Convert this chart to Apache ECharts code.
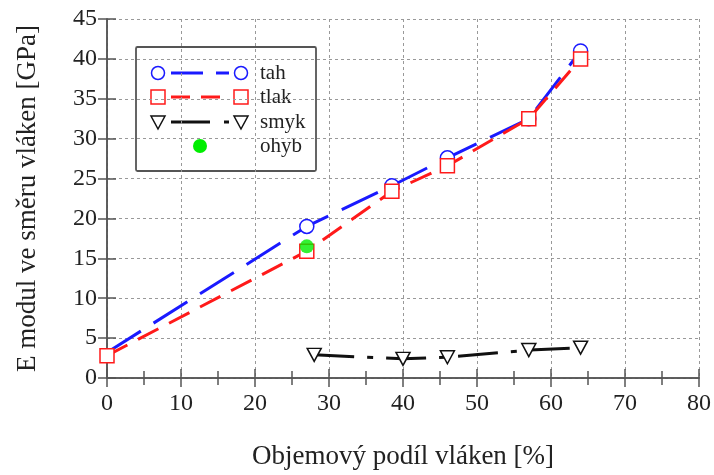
<!DOCTYPE html>
<html>
<head>
<meta charset="utf-8">
<script src="https://cdn.jsdelivr.net/npm/echarts@6/dist/echarts.min.js"></script>
<style>
html,body{margin:0;padding:0;background:#fff;}
#chart{width:714px;height:475px;}
</style>
</head>
<body>
<div id="chart"></div>
<script>
// ---- data ----
const tahX  = [0, 27, 38.5, 46, 57, 64];
const tahY  = [3.2, 19.0, 24.1, 27.6, 32.5, 41.0];
const tlakX = [0, 27, 38.5, 46, 57, 64];
const tlakY = [2.8, 15.9, 23.4, 26.6, 32.5, 40.0];
const smykX = [28, 40, 46, 57, 64];
const smykY = [2.9, 2.4, 2.6, 3.5, 3.8];
const ohybX = [27];
const ohybY = [16.5];
const seriesNames = ['tah', 'tlak', 'smyk', 'ohyb'];
const xTitle = 'Objemový podíl vláken [%]';
const yTitle = 'E modul ve směru vláken [GPa]';

const FONT = 'Liberation Serif';
const BLUE = '#1a1aff', RED = '#ff1a1a', BLACK = '#111111', GREEN = '#00ee00';

function pairs(xs, ys) { return xs.map((x, i) => [x, ys[i]]); }

const tahData = pairs(tahX, tahY).map((p, i) => i === 0 ? { value: p, symbol: 'none' } : p);

const chart = echarts.init(document.getElementById('chart'));

const frameAxisLine = { show: true, lineStyle: { color: '#555', width: 1.5 } };

// custom legend (marker - line - marker, like the reference)
const L = { x: 136, y: 47, w: 180, h: 124, rows: [73, 97, 122, 146], m1: 158, m2: 241, lx1: 171, lx2: 229, tx: 260 };
function legendRow(i) {
  const y = L.rows[i];
  const els = [];
  if (i === 0) {
    els.push({ type: 'line', shape: { x1: L.lx1, y1: y, x2: L.lx2, y2: y }, style: { stroke: BLUE, lineWidth: 3, lineDash: [32, 13] } });
    [L.m1, L.m2].forEach(cx => els.push({ type: 'circle', shape: { cx: cx, cy: y, r: 6.5 }, style: { fill: '#fff', stroke: BLUE, lineWidth: 1.5 } }));
  } else if (i === 1) {
    els.push({ type: 'line', shape: { x1: L.lx1, y1: y, x2: L.lx2, y2: y }, style: { stroke: RED, lineWidth: 3, lineDash: [19, 11] } });
    [L.m1, L.m2].forEach(cx => els.push({ type: 'rect', shape: { x: cx - 7, y: y - 7, width: 14, height: 14 }, style: { fill: '#fff', stroke: RED, lineWidth: 1.5 } }));
  } else if (i === 2) {
    els.push({ type: 'line', shape: { x1: L.lx1, y1: y, x2: L.lx2 + 2, y2: y }, style: { stroke: BLACK, lineWidth: 3, lineDash: [39, 14, 5, 10] } });
    [L.m1, L.m2].forEach(cx => els.push({ type: 'polygon', shape: { points: [[cx - 7, y - 6], [cx + 7, y - 6], [cx, y + 7]] }, style: { fill: '#fff', stroke: BLACK, lineWidth: 1.5 } }));
  } else {
    els.push({ type: 'circle', shape: { cx: 200, cy: y, r: 7 }, style: { fill: GREEN } });
  }
  els.push({ type: 'text', style: { x: L.tx, y: y, text: seriesNames[i], font: '21px "' + FONT + '"', fill: '#222', verticalAlign: 'middle', textAlign: 'left' } });
  return els;
}
let legendEls = [{ type: 'rect', shape: { x: L.x, y: L.y, width: L.w, height: L.h, r: 1.5 }, style: { fill: '#fff', stroke: '#555', lineWidth: 1.8 } }];
for (let i = 0; i < 4; i++) legendEls = legendEls.concat(legendRow(i));

chart.setOption({
  animation: false,
  backgroundColor: '#fff',
  grid: { left: 107, right: 15, top: 19, bottom: 94, containLabel: false },
  xAxis: [{
    type: 'value', min: 0, max: 80, interval: 10,
    name: xTitle, nameLocation: 'middle', nameGap: 65,
    nameTextStyle: { fontFamily: FONT, fontSize: 27, color: '#222' },
    axisLine: frameAxisLine,
    axisTick: { show: true, inside: true, length: 9, lineStyle: { color: '#555', width: 1.5 } },
    minorTick: { show: true, splitNumber: 2, length: 7, lineStyle: { color: '#555', width: 1.5 } },
    axisLabel: { fontFamily: FONT, fontSize: 24, color: '#222', margin: 14 },
    splitLine: { show: true, lineStyle: { color: '#999', width: 1, type: [3, 3] } }
  }, {
    type: 'value', position: 'top', min: 0, max: 80, interval: 10,
    axisLine: frameAxisLine,
    axisTick: { show: true, inside: true, length: 9, lineStyle: { color: '#555', width: 1.5 } },
    minorTick: { show: true, splitNumber: 2, length: 7, lineStyle: { color: '#555', width: 1.5 } },
    axisLabel: { show: false }, splitLine: { show: false }
  }],
  yAxis: [{
    type: 'value', min: 0, max: 45, interval: 5,
    name: yTitle, nameLocation: 'middle', nameGap: 66,
    nameTextStyle: { fontFamily: FONT, fontSize: 27, color: '#222' },
    axisLine: frameAxisLine,
    axisTick: { show: true, inside: true, length: 9, lineStyle: { color: '#555', width: 1.5 } },
    axisLabel: { fontFamily: FONT, fontSize: 24, color: '#222', margin: 10 },
    splitLine: { show: true, lineStyle: { color: '#999', width: 1, type: [3, 3] } }
  }, {
    type: 'value', position: 'right', min: 0, max: 45, interval: 5,
    axisLine: frameAxisLine,
    axisTick: { show: true, inside: true, length: 9, lineStyle: { color: '#555', width: 1.5 } },
    axisLabel: { show: false }, splitLine: { show: false }
  }],
  series: [
    {
      name: seriesNames[0], type: 'line', data: tahData,
      symbol: 'circle', symbolSize: 14,
      lineStyle: { color: BLUE, width: 3, type: [40, 15] },
      itemStyle: { color: '#fff', borderColor: BLUE, borderWidth: 1.5 },
      z: 3
    },
    {
      name: seriesNames[1], type: 'line', data: pairs(tlakX, tlakY),
      symbol: 'rect', symbolSize: 14,
      lineStyle: { color: RED, width: 3, type: [23, 12] },
      itemStyle: { color: '#fff', borderColor: RED, borderWidth: 1.5 },
      z: 4
    },
    {
      name: seriesNames[2], type: 'line', data: pairs(smykX, smykY),
      symbol: 'triangle', symbolRotate: 180, symbolSize: [14, 13],
      lineStyle: { color: BLACK, width: 3, type: [40, 13, 6, 13] },
      itemStyle: { color: '#fff', borderColor: BLACK, borderWidth: 1.5 },
      z: 3
    },
    {
      name: seriesNames[3], type: 'scatter', data: pairs(ohybX, ohybY),
      symbol: 'circle', symbolSize: 14,
      itemStyle: { color: GREEN },
      z: 5
    }
  ],
  graphic: { elements: [{ type: 'group', z: 100, children: legendEls }] }
});
</script>
</body>
</html>
